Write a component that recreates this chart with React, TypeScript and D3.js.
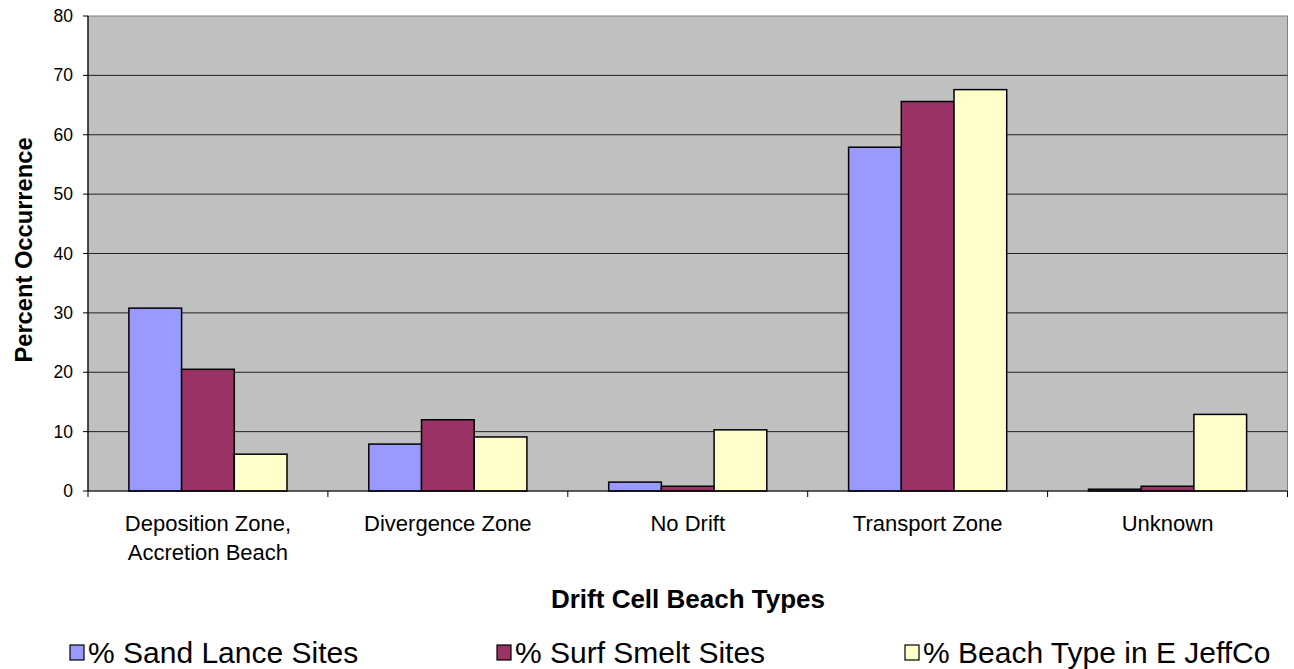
import React from "react";
import * as d3 from "d3";

const categories = [
  ["Deposition Zone,", "Accretion Beach"],
  ["Divergence Zone"],
  ["No Drift"],
  ["Transport Zone"],
  ["Unknown"],
];
const seriesNames = ["% Sand Lance Sites", "% Surf Smelt Sites", "% Beach Type in E JeffCo"];
const sandLance = [30.8, 7.9, 1.5, 57.9, 0.3];
const surfSmelt = [20.5, 12.0, 0.8, 65.6, 0.8];
const beachType = [6.2, 9.1, 10.3, 67.6, 12.9];
const colors = ["#9999FF", "#993366", "#FFFFCC"];
const yTicks = [0, 10, 20, 30, 40, 50, 60, 70, 80];

export default function App() {
  const W = 1294, H = 669;
  const left = 88, right = 1287.5, top = 16, bottom = 491;
  const series = [sandLance, surfSmelt, beachType];
  const x = d3.scaleBand<number>().domain(d3.range(categories.length)).range([left, right]).paddingInner(0).paddingOuter(0);
  const y = d3.scaleLinear().domain([0, 80]).range([bottom, top]);
  const bw = 52.7;
  const font = "'Liberation Sans', Arial, sans-serif";
  const legendX = [70, 497, 905];
  return (
    <svg width={W} height={H} style={{ position: "absolute", left: 0, top: 0, background: "#fff" }} fontFamily={font}>
      <rect x={left} y={top} width={right - left} height={bottom - top} fill="#C0C0C0" stroke="#808080" strokeWidth={1} />
      {yTicks.map((t) => (
        <g key={t}>
          {t > 0 && t < 80 && <line x1={left} x2={right} y1={y(t)} y2={y(t)} stroke="#222" strokeWidth={1} />}
          <line x1={left - 5} x2={left} y1={y(t)} y2={y(t)} stroke="#000" strokeWidth={1} />
          <text x={73} y={y(t) + 6} fontSize={17.5} textAnchor="end" fill="#000">{t}</text>
        </g>
      ))}
      {series.map((vals, si) =>
        vals.map((v, ci) => {
          const cx = x(ci)! + x.bandwidth() / 2;
          const x0 = cx - 1.5 * bw + si * bw;
          return (
            <rect key={`${si}-${ci}`} x={x0} y={y(v)} width={bw} height={y(0) - y(v)} fill={colors[si]} stroke="#000" strokeWidth={1.5} />
          );
        })
      )}
      <line x1={left} x2={left} y1={top} y2={bottom} stroke="#000" strokeWidth={1.2} />
      <line x1={left} x2={right} y1={bottom} y2={bottom} stroke="#000" strokeWidth={1.2} />
      {d3.range(categories.length + 1).map((i) => {
        const xx = i < categories.length ? x(i)! : right;
        return <line key={i} x1={xx} x2={xx} y1={bottom} y2={bottom + 6} stroke="#000" strokeWidth={1} />;
      })}
      {categories.map((lines, ci) => (
        <text key={ci} x={x(ci)! + x.bandwidth() / 2} textAnchor="middle" fontSize={22} fill="#000">
          {lines.map((l, li) => (
            <tspan key={li} x={x(ci)! + x.bandwidth() / 2} y={531 + li * 29}>{l}</tspan>
          ))}
        </text>
      ))}
      <text x={688} y={608} textAnchor="middle" fontSize={26} fontWeight="bold" fill="#000">Drift Cell Beach Types</text>
      <text transform={`translate(32,250) rotate(-90)`} textAnchor="middle" fontSize={23.7} fontWeight="bold" fill="#000">Percent Occurrence</text>
      {seriesNames.map((n, i) => (
        <g key={n}>
          <rect x={legendX[i]} y={645} width={14} height={15} fill={colors[i]} stroke="#000" strokeWidth={1.2} />
          <text x={legendX[i] + 18} y={663} fontSize={30} fill="#000">{n}</text>
        </g>
      ))}
    </svg>
  );
}
